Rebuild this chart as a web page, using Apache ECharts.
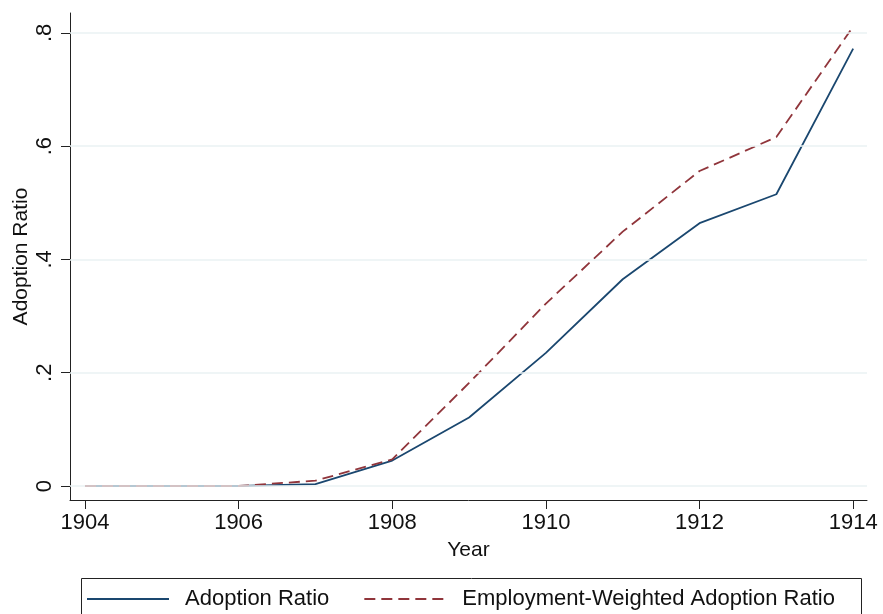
<!DOCTYPE html>
<html>
<head>
<meta charset="utf-8">
<script src="https://cdn.jsdelivr.net/npm/echarts@6/dist/echarts.min.js"></script>
<style>html,body{margin:0;padding:0;background:#fff}#c{width:883px;height:614px}</style>
</head>
<body>
<div id="c"></div>
<script>
const years = [1904, 1905, 1906, 1907, 1908, 1909, 1910, 1911, 1912, 1913, 1914];
const adoption = [0, 0, 0, 0.0035, 0.045, 0.121, 0.235, 0.365, 0.464, 0.515, 0.772];
const weighted = [0, 0, 0, 0.0094, 0.047, 0.182, 0.322, 0.449, 0.556, 0.616, 0.811];
const xTicks = [1904, 1906, 1908, 1910, 1912, 1914];
const yTicks = [0, 0.2, 0.4, 0.6, 0.8];
const seriesNames = ['Adoption Ratio', 'Employment-Weighted Adoption Ratio'];

const FONT = 'Liberation Sans';
const chart = echarts.init(document.getElementById('c'), null, {renderer: 'canvas'});
const fmtY = v => v === 0 ? '0' : String(Math.round(v * 10) / 10).replace(/^0/, '');

chart.setOption({
  animation: false,
  backgroundColor: '#fff',
  textStyle: {fontFamily: FONT},
  grid: {left: 70, right: 16, top: 13, bottom: 114, containLabel: false, outerBoundsMode: 'none'},
  graphic: [{
    type: 'rect', left: 79, top: 576,
    shape: {width: 780, height: 60},
    style: {fill: 'none', stroke: '#222', lineWidth: 1}
  }],
  legend: {
    left: 81, top: 583,
    itemWidth: 82, itemHeight: 14, itemGap: 34,
    itemStyle: {opacity: 0},
    textStyle: {fontFamily: FONT, fontSize: 22, color: '#111', padding: [0, 0, 0, 11]},
    data: seriesNames
  },
  xAxis: {
    type: 'value',
    min: 1903.805, max: 1914.18,
    name: 'Year', nameLocation: 'middle', nameGap: 40,
    nameMoveOverlap: false,
    nameTextStyle: {fontFamily: FONT, fontSize: 21, color: '#111'},
    axisLine: {show: true, onZero: false, lineStyle: {color: '#222', width: 1}},
    axisTick: {show: true, length: 9, lineStyle: {color: '#222'}, customValues: xTicks},
    axisLabel: {fontFamily: FONT, fontSize: 22, color: '#111', margin: 12, customValues: xTicks, formatter: v => String(v)},
    splitLine: {show: false}
  },
  yAxis: {
    type: 'value',
    min: -0.0247, max: 0.835,
    name: seriesNames[0], nameLocation: 'middle', nameGap: 38, nameRotate: 90,
    nameMoveOverlap: false,
    nameTextStyle: {fontFamily: FONT, fontSize: 21, color: '#111'},
    axisLine: {show: true, onZero: false, lineStyle: {color: '#222', width: 1}},
    axisTick: {show: true, length: 9, lineStyle: {color: '#222'}, customValues: yTicks},
    axisLabel: {fontFamily: FONT, fontSize: 22, color: '#111', margin: 14, rotate: 90, customValues: yTicks, formatter: fmtY},
    splitLine: {show: false}
  },
  series: [
    {
      name: seriesNames[0], type: 'line', symbol: 'none',
      data: years.map((y, i) => [y, adoption[i]]),
      lineStyle: {color: '#1a476f', width: 1.8},
      itemStyle: {color: '#1a476f'},
      z: 3,
      markLine: {
        silent: true, symbol: 'none', label: {show: false},
        lineStyle: {color: '#eaf2f3', width: 1.5, type: 'solid'},
        data: yTicks.map(v => ({yAxis: v}))
      }
    },
    {
      name: seriesNames[1], type: 'line', symbol: 'none',
      data: years.map((y, i) => [y, weighted[i]]),
      lineStyle: {color: '#90353b', width: 1.8, type: [11, 6]},
      itemStyle: {color: '#90353b'},
      z: 4
    }
  ]
});
</script>
</body>
</html>
